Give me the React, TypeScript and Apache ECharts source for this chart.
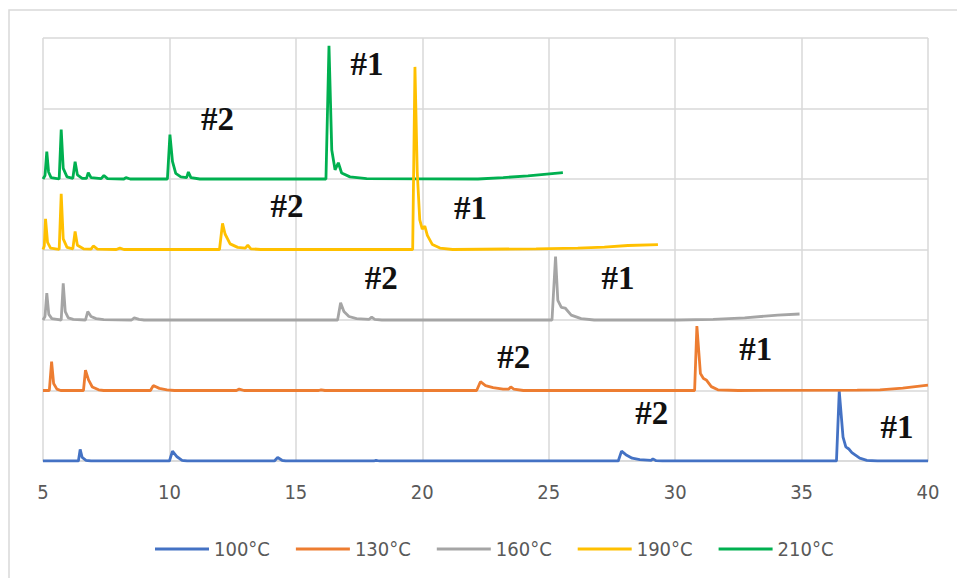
import React, { useEffect, useRef } from "react";
import * as echarts from "echarts";

// Retention time axis (min) and stacked chromatograms; raw intensities per run.
const xTicks = { min: 5, max: 40, step: 5 };
const seriesNames = ["100°C", "130°C", "160°C", "190°C", "210°C"];
const seriesColors = ["#4472C4", "#ED7D31", "#A5A5A5", "#FFC000", "#00B050"];
const baselineOffsets = [0, 1, 2, 3, 4];

const trace100: number[][] = [
  [5.0, 0], [6.4, 0], [6.47, 0.165], [6.55, 0.05], [6.7, 0.01], [6.9, 0],
  [10.0, 0], [10.12, 0.14], [10.3, 0.06], [10.5, 0.01], [10.7, 0],
  [14.15, 0], [14.28, 0.05], [14.45, 0.01], [14.6, 0],
  [18.1, 0], [18.17, 0.01], [18.3, 0],
  [27.75, 0], [27.88, 0.14], [28.05, 0.09], [28.3, 0.04], [28.6, 0.02], [29.05, 0.01], [29.12, 0.03], [29.25, 0.005], [29.5, 0],
  [36.38, 0], [36.49, 0.99], [36.64, 0.34], [36.75, 0.2], [36.87, 0.17], [36.99, 0.12], [37.3, 0.04], [37.58, 0.01], [38.0, 0], [40.0, 0],
];

const trace130: number[][] = [
  [5.0, 0], [5.25, 0], [5.34, 0.41], [5.42, 0.1], [5.55, 0.02], [5.7, 0],
  [6.6, 0], [6.68, 0.29], [6.8, 0.15], [6.95, 0.05], [7.2, 0.01], [7.4, 0],
  [9.25, 0], [9.36, 0.07], [9.6, 0.03], [9.9, 0.01], [10.2, 0],
  [12.65, 0], [12.76, 0.02], [12.95, 0],
  [15.9, 0], [16.0, 0.01], [16.15, 0],
  [22.15, 0], [22.3, 0.125], [22.5, 0.07], [22.8, 0.04], [23.2, 0.02], [23.42, 0.02], [23.5, 0.05], [23.62, 0.02], [24.0, 0],
  [30.77, 0], [30.86, 0.915], [31.0, 0.24], [31.12, 0.17], [31.23, 0.15], [31.43, 0.055], [31.69, 0.01], [32.5, 0],
  [37.2, 0.005], [38.1, 0.01], [39.0, 0.035], [40.0, 0.075],
];

const trace160: number[][] = [
  [5.0, 0], [5.08, 0.05], [5.15, 0.38], [5.23, 0.08], [5.35, 0.02], [5.55, 0.01],
  [5.72, 0], [5.8, 0.52], [5.88, 0.12], [6.0, 0.03], [6.2, 0.01],
  [6.68, 0], [6.77, 0.12], [6.9, 0.05], [7.1, 0.02], [7.4, 0.005],
  [8.5, 0], [8.61, 0.03], [8.8, 0.01], [9.0, 0],
  [16.65, 0], [16.77, 0.245], [16.9, 0.12], [17.1, 0.05], [17.4, 0.02], [17.9, 0.01], [18.0, 0.04], [18.12, 0.01], [18.4, 0],
  [25.13, 0], [25.27, 0.9], [25.36, 0.28], [25.5, 0.18], [25.65, 0.17], [25.89, 0.07], [26.28, 0.02], [26.8, 0],
  [30.1, 0], [31.5, 0.01], [32.75, 0.03], [34.06, 0.07], [34.92, 0.085],
];

const trace190: number[][] = [
  [5.0, 0], [5.05, 0.05], [5.1, 0.435], [5.18, 0.1], [5.3, 0.02], [5.5, 0.01],
  [5.64, 0], [5.72, 0.79], [5.8, 0.15], [5.95, 0.03], [6.18, 0.01],
  [6.27, 0.255], [6.36, 0.06], [6.6, 0.01], [6.9, 0.005], [6.99, 0.05], [7.15, 0.005],
  [7.9, 0], [8.04, 0.02], [8.2, 0],
  [11.98, 0], [12.1, 0.37], [12.2, 0.22], [12.4, 0.08], [12.7, 0.03], [13.0, 0.02], [13.1, 0.06], [13.22, 0.01], [13.6, 0],
  [19.62, 0], [19.71, 2.59], [19.8, 1.1], [19.9, 0.42], [20.0, 0.29], [20.1, 0.33], [20.2, 0.2], [20.4, 0.07], [20.7, 0.02], [21.2, 0],
  [24.5, 0.01], [26.15, 0.02], [27.2, 0.035], [28.13, 0.057], [29.32, 0.07],
];

const trace210: number[][] = [
  [5.0, 0], [5.08, 0.05], [5.15, 0.39], [5.22, 0.1], [5.32, 0.02], [5.5, 0.01],
  [5.64, 0], [5.72, 0.7], [5.8, 0.15], [5.95, 0.03], [6.18, 0.01],
  [6.27, 0.245], [6.36, 0.06], [6.55, 0.01], [6.72, 0.01], [6.79, 0.09], [6.9, 0.02],
  [7.3, 0.005], [7.41, 0.05], [7.55, 0.005], [8.2, 0], [8.28, 0.02], [8.45, 0],
  [9.92, 0], [10.02, 0.63], [10.12, 0.25], [10.25, 0.08], [10.45, 0.03], [10.68, 0.02], [10.75, 0.1], [10.85, 0.02], [11.2, 0],
  [16.19, 0], [16.31, 1.89], [16.42, 0.41], [16.55, 0.13], [16.68, 0.23], [16.81, 0.085], [17.14, 0.03], [17.8, 0.005],
  [22.2, 0], [23.2, 0.02], [24.18, 0.045], [25.56, 0.09],
];

const traces = [trace100, trace130, trace160, trace190, trace210];

// Peak annotations (#1 / #2) per run, in axis units.
const peakNotes: { text: string; at: number[] }[][] = [
  [{ text: "#2", at: [29.07, 0.68] }, { text: "#1", at: [38.77, 0.48] }],
  [{ text: "#2", at: [23.62, 1.47] }, { text: "#1", at: [33.19, 1.59] }],
  [{ text: "#2", at: [18.38, 2.59] }, { text: "#1", at: [27.74, 2.59] }],
  [{ text: "#2", at: [14.65, 3.61] }, { text: "#1", at: [21.91, 3.59] }],
  [{ text: "#2", at: [11.9, 4.85] }, { text: "#1", at: [17.81, 5.63] }],
];

const gridGray = "#d9d9d9";
const textGray = "#595959";
const sansNarrow = "'Liberation Sans Narrow', 'DejaVu Sans Condensed', Roboto, sans-serif";

export default function App() {
  const ref = useRef<HTMLDivElement>(null);

  useEffect(() => {
    if (!ref.current) return;
    const chart = echarts.init(ref.current, undefined, { renderer: "svg" });

    const series = seriesNames.map((name, i) => ({
      name,
      type: "line",
      data: traces[i].map(([x, y]) => [x, y + baselineOffsets[i]]),
      showSymbol: false,
      symbol: "none",
      z: i === 3 ? 4 : 3,
      lineStyle: { color: seriesColors[i], width: 2.8 },
      itemStyle: { color: seriesColors[i] },
      markPoint: {
        symbol: "circle",
        symbolSize: 0,
        silent: true,
        itemStyle: { color: "transparent" },
        label: {
          show: true,
          position: "inside",
          color: "#111",
          fontFamily: "'Liberation Serif', serif",
          fontWeight: "bold",
          fontSize: 33,
        },
        data: peakNotes[i].map((n) => ({
          coord: n.at,
          value: n.text,
          label: { formatter: n.text },
        })),
      },
    }));

    chart.setOption({
      animation: false,
      backgroundColor: "#ffffff",
      graphic: [
        {
          type: "rect",
          shape: { x: 9, y: 10, width: 960, height: 580 },
          style: { fill: "none", stroke: gridGray, lineWidth: 1.5 },
          silent: true,
        },
      ],
      grid: { left: 43, right: 29, top: 38, bottom: 117 },
      xAxis: {
        type: "value",
        min: xTicks.min,
        max: xTicks.max,
        interval: xTicks.step,
        axisLine: { show: true, lineStyle: { color: gridGray, width: 1.5 } },
        axisTick: { show: false },
        axisLabel: {
          margin: 21,
          color: textGray,
          fontFamily: sansNarrow,
          fontSize: 20,
        },
        splitLine: { show: true, lineStyle: { color: gridGray, width: 1.5 } },
      },
      yAxis: {
        type: "value",
        min: 0,
        max: 6,
        interval: 1,
        axisLine: { show: false },
        axisTick: { show: false },
        axisLabel: { show: false },
        splitLine: { show: true, lineStyle: { color: gridGray, width: 1.5 } },
      },
      legend: {
        data: seriesNames,
        top: 534,
        left: 150,
        icon: "rect",
        itemWidth: 54,
        itemHeight: 3,
        itemGap: 26,
        textStyle: {
          color: textGray,
          fontFamily: sansNarrow,
          fontSize: 20,
        },
      },
      series,
    });

    return () => chart.dispose();
  }, []);

  return (
    <div
      ref={ref}
      style={{ position: "fixed", left: 0, top: 0, width: 957, height: 578 }}
    />
  );
}
